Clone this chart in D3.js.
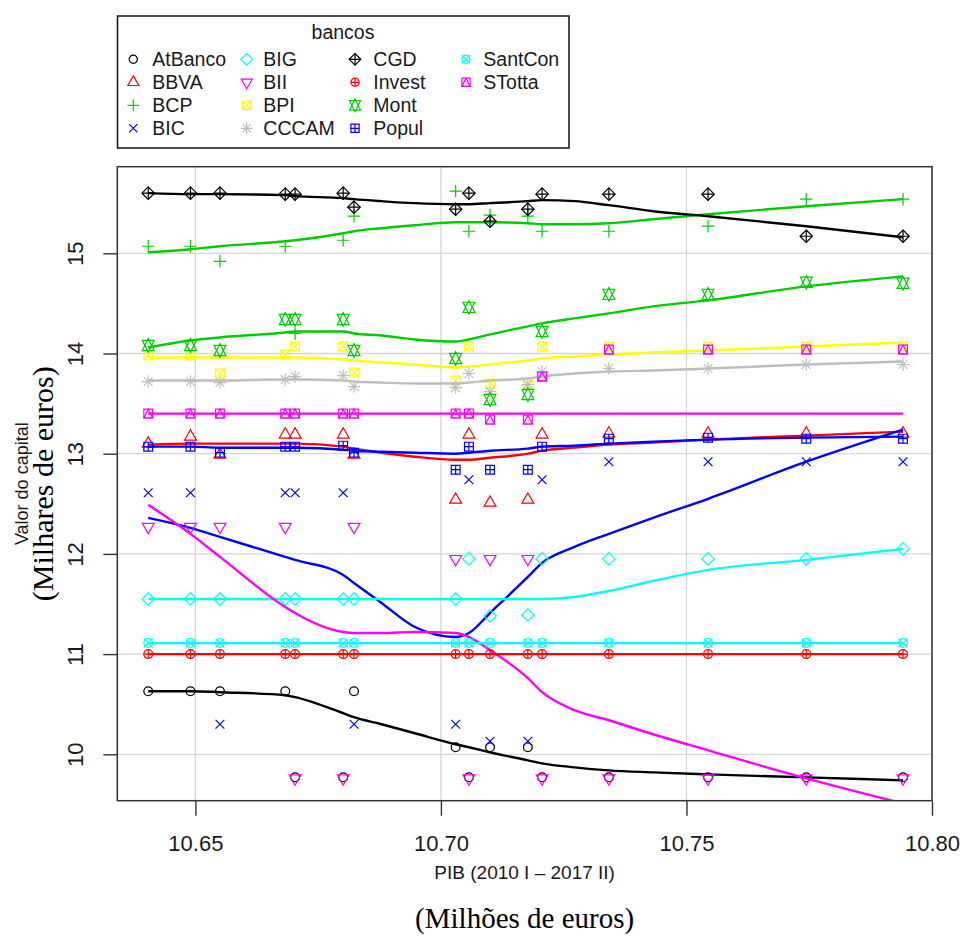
<!DOCTYPE html>
<html>
<head>
<meta charset="utf-8">
<script src="https://cdn.jsdelivr.net/npm/d3@7"></script>
<style>
body { margin: 0; background: #fff; }
svg { display: block; }
text { font-family: "Liberation Sans", Arial, sans-serif; fill: #1a1a1a; }
.serif { font-family: "Liberation Serif", "Times New Roman", serif; fill: #000; }
</style>
</head>
<body>
<svg width="965" height="943"></svg>
<script>
// **** Data ****
// PIB (log) for the 16 semesters, x positions of the points
var pib = [10.6404, 10.6490, 10.6550, 10.6683, 10.6703, 10.6801, 10.6823, 10.7030,
           10.7057, 10.7100, 10.7177, 10.7206, 10.7342, 10.7544, 10.7744, 10.7941];

var banks = ["AtBanco", "BBVA", "BCP", "BIC", "BIG", "BII", "BPI", "CCCAM",
             "CGD", "Invest", "Mont", "Popul", "SantCon", "STotta"];
var bankColors = ["#000000", "#FF0000", "#00CD00", "#0000FF", "#00FFFF", "#FF00FF", "#FFFF00", "#BEBEBE",
                  "#000000", "#FF0000", "#00CD00", "#0000FF", "#00FFFF", "#FF00FF"];
var bankPch = [1, 2, 3, 4, 5, 6, 7, 8, 9, 10, 11, 12, 13, 14];

// capital value (log) of each bank, one value per pib entry
var atBanco = [10.63, 10.63, 10.63, 10.63, 9.77, 9.77, 10.63, 10.07, 9.77, 10.07, 10.07, 9.77, 9.77, 9.77, 9.77, 9.77];
var bbva    = [13.10, 13.17, 12.99, 13.19, 13.19, 13.19, 12.99, 12.54, 13.19, 12.51, 12.54, 13.19, 13.20, 13.20, 13.20, 13.20];
var bcp     = [15.07, 15.07, 14.92, 15.07, 14.20, 15.13, 15.37, 15.62, 15.22, 15.38, 15.37, 15.22, 15.22, 15.27, 15.54, 15.54];
var bic     = [12.61, 12.61, 10.30, 12.61, 12.61, 12.61, 10.30, 10.30, 12.74, 10.13, 10.13, 12.74, 12.92, 12.92, 12.92, 12.92];
var big     = [11.55, 11.55, 11.55, 11.55, 11.55, 11.55, 11.55, 11.55, 11.95, 11.38, 11.39, 11.95, 11.95, 11.95, 11.95, 12.05];
var bii     = [12.27, 12.27, 12.27, 12.27, 9.76, 9.76, 12.27, 11.95, 9.76, 11.95, 11.95, 9.76, 9.76, 9.76, 9.76, 9.76];
var bpi     = [13.98, 13.98, 13.80, 13.99, 14.07, 14.07, 13.81, 13.73, 14.07, 13.70, 13.70, 14.07, 14.07, 14.07, 14.07, 14.07];
var cccam   = [13.72, 13.72, 13.71, 13.74, 13.77, 13.78, 13.67, 13.66, 13.80, 13.62, 13.69, 13.82, 13.85, 13.85, 13.89, 13.89];
var cgd     = [15.60, 15.60, 15.60, 15.59, 15.59, 15.60, 15.46, 15.44, 15.60, 15.32, 15.44, 15.59, 15.59, 15.59, 15.17, 15.17];
var invest  = [11.00, 11.00, 11.00, 11.00, 11.00, 11.00, 11.00, 11.00, 11.00, 11.00, 11.00, 11.00, 11.00, 11.00, 11.00, 11.00];
var mont    = [14.08, 14.08, 14.03, 14.34, 14.34, 14.34, 14.03, 13.95, 14.46, 13.54, 13.59, 14.22, 14.59, 14.59, 14.71, 14.70];
var popul   = [13.07, 13.07, 13.01, 13.07, 13.07, 13.08, 13.01, 12.84, 13.07, 12.84, 12.84, 13.07, 13.15, 13.16, 13.15, 13.15];
var santCon = [11.11, 11.11, 11.11, 11.11, 11.11, 11.11, 11.11, 11.11, 11.11, 11.11, 11.11, 11.11, 11.11, 11.11, 11.11, 11.11];
var sTotta  = [13.40, 13.40, 13.40, 13.40, 13.40, 13.40, 13.40, 13.40, 13.40, 13.34, 13.34, 13.77, 14.04, 14.04, 14.04, 14.04];

// smoothed curves, read at these x values
var smoothX = [10.6404, 10.6490, 10.6550, 10.6683, 10.6703, 10.6801, 10.6823, 10.6879, 10.6947, 10.7030,
               10.7057, 10.7100, 10.7177, 10.7206, 10.7272, 10.7342, 10.7432, 10.7544, 10.7744, 10.7941];
var smAtBanco = [10.63, 10.63, 10.62, 10.59, 10.57, 10.41, 10.37, 10.30, 10.21, 10.10, 10.07, 10.02, 9.94, 9.91, 9.87, 9.84, 9.82, 9.80, 9.77, 9.74];
var smBbva    = [13.09, 13.10, 13.10, 13.10, 13.10, 13.07, 13.05, 13.01, 12.97, 12.94, 12.94, 12.96, 13.00, 13.03, 13.06, 13.09, 13.11, 13.14, 13.18, 13.22];
var smBcp     = [15.01, 15.04, 15.07, 15.12, 15.13, 15.20, 15.22, 15.25, 15.28, 15.31, 15.31, 15.31, 15.30, 15.29, 15.29, 15.30, 15.34, 15.39, 15.47, 15.54];
var smBic     = [12.36, 12.26, 12.17, 11.97, 11.94, 11.79, 11.71, 11.51, 11.27, 11.17, 11.21, 11.41, 11.77, 11.91, 12.07, 12.20, 12.36, 12.55, 12.92, 13.24];
var smBig     = [11.55, 11.55, 11.55, 11.55, 11.55, 11.55, 11.55, 11.55, 11.55, 11.55, 11.55, 11.55, 11.55, 11.55, 11.57, 11.63, 11.73, 11.84, 11.94, 12.05];
var smBii     = [12.49, 12.20, 11.97, 11.47, 11.41, 11.22, 11.21, 11.21, 11.22, 11.21, 11.17, 11.04, 10.76, 10.62, 10.44, 10.34, 10.20, 10.04, 9.76, 9.51];
var smBpi     = [13.96, 13.96, 13.96, 13.96, 13.96, 13.94, 13.93, 13.91, 13.89, 13.86, 13.87, 13.89, 13.93, 13.95, 13.97, 13.99, 14.01, 14.03, 14.07, 14.11];
var smCccam   = [13.73, 13.73, 13.73, 13.74, 13.74, 13.73, 13.72, 13.71, 13.70, 13.70, 13.71, 13.73, 13.75, 13.77, 13.80, 13.82, 13.83, 13.85, 13.89, 13.92];
var smCgd     = [15.60, 15.59, 15.59, 15.58, 15.57, 15.55, 15.54, 15.52, 15.50, 15.49, 15.49, 15.50, 15.52, 15.53, 15.52, 15.48, 15.42, 15.37, 15.27, 15.16];
var smInvest  = [11.00, 11.00, 11.00, 11.00, 11.00, 11.00, 11.00, 11.00, 11.00, 11.00, 11.00, 11.00, 11.00, 11.00, 11.00, 11.00, 11.00, 11.00, 11.00, 11.00];
var smMont    = [14.06, 14.13, 14.16, 14.21, 14.22, 14.22, 14.20, 14.18, 14.14, 14.12, 14.14, 14.19, 14.27, 14.30, 14.35, 14.40, 14.47, 14.53, 14.67, 14.77];
var smPopul   = [13.07, 13.07, 13.06, 13.06, 13.06, 13.04, 13.03, 13.02, 13.01, 13.00, 13.01, 13.03, 13.05, 13.07, 13.08, 13.10, 13.12, 13.14, 13.16, 13.17];
var smSantCon = [11.11, 11.11, 11.11, 11.11, 11.11, 11.11, 11.11, 11.11, 11.11, 11.11, 11.11, 11.11, 11.11, 11.11, 11.11, 11.11, 11.11, 11.11, 11.11, 11.11];
var smSTotta  = [13.40, 13.40, 13.40, 13.40, 13.40, 13.40, 13.40, 13.40, 13.40, 13.40, 13.40, 13.40, 13.40, 13.40, 13.40, 13.40, 13.40, 13.40, 13.40, 13.40];

var xTicks = [10.65, 10.70, 10.75, 10.80];
var yTicks = [10, 11, 12, 13, 14, 15];

var values = [atBanco, bbva, bcp, bic, big, bii, bpi, cccam, cgd, invest, mont, popul, santCon, sTotta];
var smooths = [smAtBanco, smBbva, smBcp, smBic, smBig, smBii, smBpi, smCccam, smCgd, smInvest, smMont, smPopul, smSantCon, smSTotta];

// **** Scales ****
var plotLeft = 117.3, plotRight = 932, plotTop = 166.7, plotBottom = 800.7;
var xScale = d3.scaleLinear().domain([10.6341, 10.80]).range([plotLeft, plotRight]);
var yScale = d3.scaleLinear().domain([9.537, 15.864]).range([plotBottom, plotTop]);

var svg = d3.select("svg");

// grid lines
svg.append("g").selectAll("line")
    .data(xTicks).enter().append("line")
    .attr("x1", function(d) { return xScale(d); }).attr("x2", function(d) { return xScale(d); })
    .attr("y1", plotTop).attr("y2", plotBottom)
    .attr("stroke", "#d6d6d6").attr("stroke-width", 1.3);
svg.append("g").selectAll("line")
    .data(yTicks).enter().append("line")
    .attr("y1", function(d) { return yScale(d); }).attr("y2", function(d) { return yScale(d); })
    .attr("x1", plotLeft).attr("x2", plotRight)
    .attr("stroke", "#d6d6d6").attr("stroke-width", 1.3);

// axes
var xAxis = svg.append("g").attr("transform", "translate(0," + plotBottom + ")")
    .call(d3.axisBottom(xScale).tickValues(xTicks).tickFormat(d3.format(".2f")).tickSize(15).tickSizeOuter(0));
var yAxis = svg.append("g").attr("transform", "translate(" + plotLeft + ",0)")
    .call(d3.axisLeft(yScale).tickValues(yTicks).tickFormat(d3.format("d")).tickSize(14).tickSizeOuter(0));
svg.selectAll(".domain").remove();
svg.selectAll(".tick line").attr("stroke", "#333").attr("stroke-width", 1.4);
xAxis.selectAll(".tick text")
    .attr("y", 50).attr("dy", 0)
    .style("font-family", "'Liberation Sans', Arial, sans-serif")
    .style("font-size", "22px").attr("fill", "#1a1a1a");
yAxis.selectAll(".tick text")
    .attr("x", 0).attr("y", 0).attr("dy", 0)
    .attr("text-anchor", "middle")
    .attr("transform", "translate(-34,0) rotate(-90)")
    .style("font-family", "'Liberation Sans', Arial, sans-serif")
    .style("font-size", "22px").attr("fill", "#1a1a1a");

// **** Plotting symbols (R pch shapes) ****
function pchShape(g, pch, color, r) {
    var s2 = Math.SQRT2 * r;
    var t0 = 1.5551 * r, t1 = 1.3468 * r, t2 = 0.7776 * r;
    var paths = [], circle = 0;
    if (pch === 1) circle = r;
    if (pch === 2) paths.push("M0," + (-t0) + "L" + t1 + "," + t2 + "L" + (-t1) + "," + t2 + "Z");
    if (pch === 3 || pch === 8) paths.push("M" + (-s2) + ",0H" + s2 + "M0," + (-s2) + "V" + s2);
    if (pch === 4 || pch === 7 || pch === 8 || pch === 13)
        paths.push("M" + (-r) + "," + (-r) + "L" + r + "," + r + "M" + (-r) + "," + r + "L" + r + "," + (-r));
    if (pch === 5 || pch === 9) paths.push("M0," + (-s2) + "L" + s2 + ",0L0," + s2 + "L" + (-s2) + ",0Z");
    if (pch === 9) paths.push("M" + (-s2) + ",0H" + s2 + "M0," + (-s2) + "V" + s2);
    if (pch === 6) paths.push("M0," + t0 + "L" + t1 + "," + (-t2) + "L" + (-t1) + "," + (-t2) + "Z");
    if (pch === 7 || pch === 12 || pch === 14) paths.push("M" + (-r) + "," + (-r) + "H" + r + "V" + r + "H" + (-r) + "Z");
    if (pch === 10 || pch === 12) paths.push("M" + (-r) + ",0H" + r + "M0," + (-r) + "V" + r);
    if (pch === 10 || pch === 13) circle = r;
    if (pch === 11) {
        var yc = 0.5 * (t2 + t0);
        paths.push("M0," + t0 + "L" + t1 + "," + (-yc) + "L" + (-t1) + "," + (-yc) + "Z");
        paths.push("M0," + (-t0) + "L" + t1 + "," + yc + "L" + (-t1) + "," + yc + "Z");
    }
    if (pch === 14) paths.push("M0," + (-r) + "L" + r + "," + r + "L" + (-r) + "," + r + "Z");
    if (circle) g.append("circle").attr("r", circle).attr("fill", "none").attr("stroke", color).attr("stroke-width", 1.2);
    paths.forEach(function(p) {
        g.append("path").attr("d", p).attr("fill", "none").attr("stroke", color).attr("stroke-width", 1.2);
    });
}

// **** Points and smoothers ****
svg.append("clipPath").attr("id", "plotClip").append("rect")
    .attr("x", plotLeft).attr("y", plotTop).attr("width", plotRight - plotLeft).attr("height", plotBottom - plotTop);
var plot = svg.append("g").attr("clip-path", "url(#plotClip)");
var line = d3.line()
    .x(function(d) { return xScale(d[0]); })
    .y(function(d) { return yScale(d[1]); })
    .curve(d3.curveMonotoneX);

banks.forEach(function(bank, i) {
    var pts = pib.map(function(x, j) { return [x, values[i][j]]; });
    plot.append("g").selectAll("g")
        .data(pts).enter().append("g")
        .attr("transform", function(d) { return "translate(" + xScale(d[0]) + "," + yScale(d[1]) + ")"; })
        .each(function() { pchShape(d3.select(this), bankPch[i], bankColors[i], 4.4); });
    plot.append("path")
        .datum(smoothX.map(function(x, j) { return [x, smooths[i][j]]; }))
        .attr("d", line)
        .attr("fill", "none").attr("stroke", bankColors[i]).attr("stroke-width", 2.4);
});

// plot frame
svg.append("rect").attr("x", plotLeft).attr("y", plotTop)
    .attr("width", plotRight - plotLeft).attr("height", plotBottom - plotTop)
    .attr("fill", "none").attr("stroke", "#333").attr("stroke-width", 1.5);

// **** Axis titles ****
var midX = (plotLeft + plotRight) / 2, midY = (plotTop + plotBottom) / 2;
svg.append("text").attr("x", midX).attr("y", 879).attr("text-anchor", "middle")
    .style("font-size", "19px").text("PIB (2010 I \u2013 2017 II)");
svg.append("text").attr("class", "serif").attr("x", midX).attr("y", 928).attr("text-anchor", "middle")
    .style("font-size", "29px").text("(Milhões de euros)");
svg.append("text").attr("transform", "translate(28," + midY + ") rotate(-90)").attr("text-anchor", "middle")
    .style("font-size", "18px").text("Valor do capital");
svg.append("text").attr("class", "serif").attr("transform", "translate(53," + midY + ") rotate(-90)").attr("text-anchor", "middle")
    .style("font-size", "30px").text("(Milhares de euros)");

// **** Legend ****
var legend = svg.append("g");
legend.append("rect").attr("x", 117.5).attr("y", 16).attr("width", 451.5).attr("height", 132)
    .attr("fill", "#fff").attr("stroke", "#111").attr("stroke-width", 1.5);
legend.append("text").attr("x", 343).attr("y", 39).attr("text-anchor", "middle")
    .style("font-size", "19.5px").text("bancos");
var colSym = [133.3, 246.7, 355, 466];
var colText = [152.3, 263.3, 373.3, 483.3];
var rowY = [59.3, 82.3, 105.3, 128.3];
banks.forEach(function(bank, i) {
    var col = Math.floor(i / 4), row = i % 4;
    var g = legend.append("g").attr("transform", "translate(" + colSym[col] + "," + rowY[row] + ")");
    pchShape(g, bankPch[i], bankColors[i], 4.1);
    legend.append("text").attr("x", colText[col]).attr("y", rowY[row] + 7)
        .style("font-size", "19.5px").text(bank);
});
</script>
</body>
</html>
